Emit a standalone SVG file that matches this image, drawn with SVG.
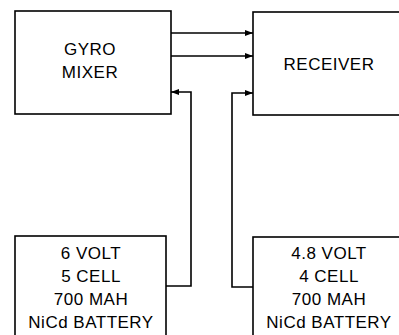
<svg xmlns="http://www.w3.org/2000/svg" width="399" height="335" viewBox="0 0 399 335">
<style>
.box{fill:#fff;stroke:#000;stroke-width:1.6}
.wire{fill:none;stroke:#000;stroke-width:1.6}
text{font-family:"Liberation Sans",Arial,sans-serif;font-size:17px;letter-spacing:0.5px;text-anchor:middle;fill:#000}
</style>
<defs>
<marker id="ah" markerUnits="userSpaceOnUse" markerWidth="9" markerHeight="7" refX="8" refY="3.5" orient="auto">
<path d="M0,0.5 L8,3.5 L0,6.5 Z" fill="#000"/>
</marker>
</defs>
<rect width="399" height="335" fill="#fff"/>
<g id="gyro-mixer">
<rect class="box" x="15" y="11" width="156" height="103"/>
<text x="90" y="55">GYRO</text>
<text x="90" y="78">MIXER</text>
</g>
<g id="receiver">
<rect class="box" x="253" y="12" width="160" height="103"/>
<text x="329" y="70">RECEIVER</text>
</g>
<g id="battery-6v">
<rect class="box" x="15" y="236" width="151" height="110"/>
<text x="91" y="259">6 VOLT</text>
<text x="91" y="282">5 CELL</text>
<text x="91" y="305">700 MAH</text>
<text x="91" y="328">NiCd BATTERY</text>
</g>
<g id="battery-4v8">
<rect class="box" x="253" y="237" width="160" height="110"/>
<text x="329" y="259">4.8 VOLT</text>
<text x="329" y="282">4 CELL</text>
<text x="329" y="305">700 MAH</text>
<text x="329" y="328">NiCd BATTERY</text>
</g>
<g id="connectors">
<path class="wire" d="M171,33 H253" marker-end="url(#ah)"/>
<path class="wire" d="M171,56 H253" marker-end="url(#ah)"/>
<path class="wire" d="M166,286 H191 V92 H171" marker-end="url(#ah)"/>
<path class="wire" d="M253,287 H232 V93 H253" marker-end="url(#ah)"/>
</g>
</svg>
